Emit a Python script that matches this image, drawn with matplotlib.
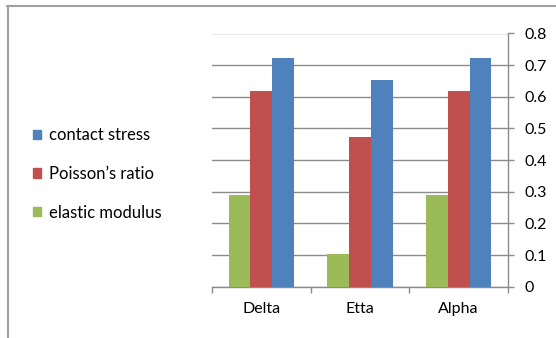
import matplotlib
matplotlib.use('Agg')
import matplotlib.pyplot as plt
import numpy as np
from matplotlib.patches import Patch
from matplotlib.lines import Line2D

plt.rcParams['font.family'] = ['Lato', 'DejaVu Sans']

# Values per material
materials = ['Delta', 'Etta', 'Alpha']
elastic_modulus = [0.29, 0.102, 0.29]
poissons_ratio = [0.617, 0.473, 0.617]
contact_stress = [0.723, 0.652, 0.723]

green = '#9BBB59'
red = '#C0504D'
blue = '#4F81BD'
grid_col = '#8C8C8C'

fig = plt.figure(figsize=(5.56, 3.38), dpi=100)
ax = fig.add_axes([212 / 556, 1 - 286.7 / 338, 296 / 556, (286.7 - 33.5) / 338])

x = np.arange(len(materials))
w = 0.22
ax.bar(x - w, elastic_modulus, w, color=green, zorder=3)
ax.bar(x, poissons_ratio, w, color=red, zorder=3)
ax.bar(x + w, contact_stress, w, color=blue, zorder=3)

ax.set_xlim(-0.5, 2.5)
ax.set_ylim(0, 0.8)
ax.set_yticks(np.arange(0, 0.81, 0.1))
ax.set_yticklabels(['0'] + ['%.1f' % v for v in np.arange(0.1, 0.81, 0.1)])
ax.yaxis.tick_right()
ax.yaxis.grid(True, color=grid_col, linewidth=1.0, zorder=0)

ax.set_xticks(x)
ax.set_xticklabels(materials)
ax.set_xticks([-0.5, 0.5, 1.5, 2.5], minor=True)
ax.tick_params(axis='x', which='major', length=0, pad=11, labelsize=11.5)
ax.tick_params(axis='x', which='minor', length=4, width=1, color=grid_col)
ax.tick_params(axis='y', length=4, width=1, color=grid_col, pad=8, labelsize=11.5)

for side in ['left', 'top']:
    ax.spines[side].set_visible(False)
for side in ['right', 'bottom']:
    ax.spines[side].set_color(grid_col)
    ax.spines[side].set_linewidth(1.0)

handles = [Patch(color=blue), Patch(color=red), Patch(color=green)]
labels = ['contact stress', 'Poisson\u2019s ratio', 'elastic modulus']
fig.legend(handles, labels, loc='center left', bbox_to_anchor=(33 / 556, 1 - 174 / 338),
           frameon=False, fontsize=12, handlelength=0.5, handleheight=0.5,
           handletextpad=0.45, labelspacing=1.35, borderpad=0, borderaxespad=0)

# outer chart frame
frame_col = '#A0A0A0'
fig.add_artist(Line2D([7.5 / 556, 7.5 / 556], [0, 1 - 6 / 338], color=frame_col, linewidth=1.5))
fig.add_artist(Line2D([7 / 556, 1], [1 - 6 / 338, 1 - 6 / 338], color=frame_col, linewidth=1.5))

fig.savefig('out.png', dpi=100)
